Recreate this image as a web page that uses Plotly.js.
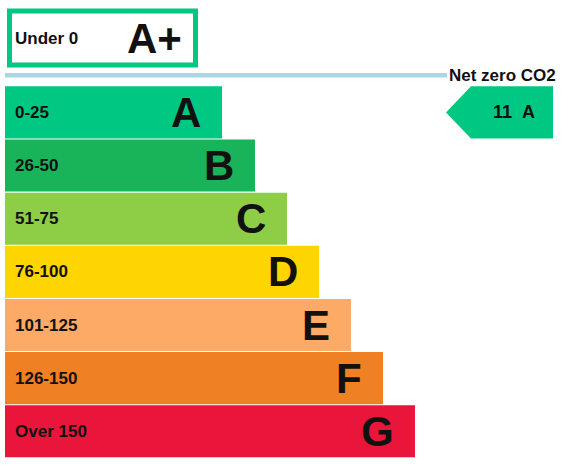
<!DOCTYPE html>
<html>
<head>
<meta charset="utf-8">
<script src="https://cdn.plot.ly/plotly-3.0.1.min.js"></script>
<style>
  html, body { margin: 0; padding: 0; background: #fff; }
  #chart { width: 563px; height: 465px; }
</style>
</head>
<body>
<div id="chart"></div>
<script>
// Rating bands, top to bottom
var bands = ["A", "B", "C", "D", "E", "F", "G"];
var ranges = ["0-25", "26-50", "51-75", "76-100", "101-125", "126-150", "Over 150"];
var bandLengths = [217, 250, 282, 314, 346, 378, 410];
var bandColors = ["#00c781", "#19b459", "#8dce46", "#ffd500", "#fcaa65", "#ef8023", "#e9153b"];

// Net zero band shown above the line
var netZeroBand = "A+";
var netZeroRange = "Under 0";
var netZeroLength = 186;
var netZeroLabel = "Net zero CO2";

// Current rating
var currentScore = 11;
var currentBand = "A";

var font = "Liberation Sans, Arial, sans-serif";
var rows = bands.map(function (b, i) { return i; });
var netZeroRow = -1.4;
var lineRow = -0.7;
var barStart = 5;

var bandTrace = {
    type: "bar",
    orientation: "h",
    y: rows,
    x: bandLengths,
    base: barStart,
    width: 0.98,
    marker: { color: bandColors },
    hoverinfo: "none"
};

var netZeroTrace = {
    type: "bar",
    orientation: "h",
    y: [netZeroRow],
    x: [netZeroLength],
    base: barStart + 4.5,
    width: 1.016,
    marker: { color: "#ffffff", line: { color: bandColors[0], width: 5 } },
    hoverinfo: "none"
};

var annotations = [];

// Range label on the left and letter on the right of each band
bands.forEach(function (band, i) {
    annotations.push({
        x: 13, y: i, xref: "x", yref: "y",
        text: ranges[i], showarrow: false,
        xanchor: "left", yanchor: "middle",
        font: { family: font, size: 17, weight: "bold", color: "#111" }
    });
    annotations.push({
        x: barStart + bandLengths[i] - 19, y: i, xref: "x", yref: "y",
        text: band, showarrow: false,
        xanchor: "right", yanchor: "middle",
        font: { family: font, size: 42, weight: "bold", color: "#111" }
    });
});

annotations.push({
    x: 13, y: netZeroRow, xref: "x", yref: "y",
    text: netZeroRange, showarrow: false,
    xanchor: "left", yanchor: "middle",
    font: { family: font, size: 17, weight: "bold", color: "#111" }
});
annotations.push({
    x: 184, y: netZeroRow, xref: "x", yref: "y",
    text: netZeroBand, showarrow: false,
    xanchor: "right", yanchor: "middle",
    font: { family: font, size: 42, weight: "bold", color: "#111" }
});
annotations.push({
    x: 558, y: lineRow, xref: "x", yref: "y",
    text: netZeroLabel, showarrow: false,
    xanchor: "right", yanchor: "middle",
    font: { family: font, size: 17, weight: "bold", color: "#111" }
});

// Arrow pointing at the current band
var ci = bands.indexOf(currentBand);
var tipX = 446, bodyX = 471, rightX = 553, half = 0.49;
var arrowPath = "M " + tipX + "," + ci +
    " L " + bodyX + "," + (ci - half) +
    " L " + rightX + "," + (ci - half) +
    " L " + rightX + "," + (ci + half) +
    " L " + bodyX + "," + (ci + half) + " Z";

annotations.push({
    x: 514, y: ci, xref: "x", yref: "y",
    text: currentScore + "&nbsp;&nbsp;" + currentBand, showarrow: false,
    xanchor: "center", yanchor: "middle",
    font: { family: font, size: 18, weight: "bold", color: "#111" }
});

var layout = {
    width: 563,
    height: 465,
    margin: { l: 0, r: 0, t: 0, b: 0 },
    paper_bgcolor: "#ffffff",
    plot_bgcolor: "#ffffff",
    showlegend: false,
    barmode: "overlay",
    xaxis: { range: [0, 563], visible: false, fixedrange: true },
    yaxis: { range: [6.634, -2.115], visible: false, fixedrange: true },
    shapes: [
        {
            type: "line", xref: "x", yref: "y",
            x0: barStart, x1: 447, y0: lineRow, y1: lineRow,
            line: { color: "#abd6e6", width: 4.5 }
        },
        {
            type: "path", xref: "x", yref: "y",
            path: arrowPath,
            fillcolor: bandColors[bands.indexOf(currentBand)],
            line: { width: 0 }
        }
    ],
    annotations: annotations
};

Plotly.newPlot("chart", [bandTrace, netZeroTrace], layout, { displayModeBar: false, staticPlot: true });
</script>
</body>
</html>
